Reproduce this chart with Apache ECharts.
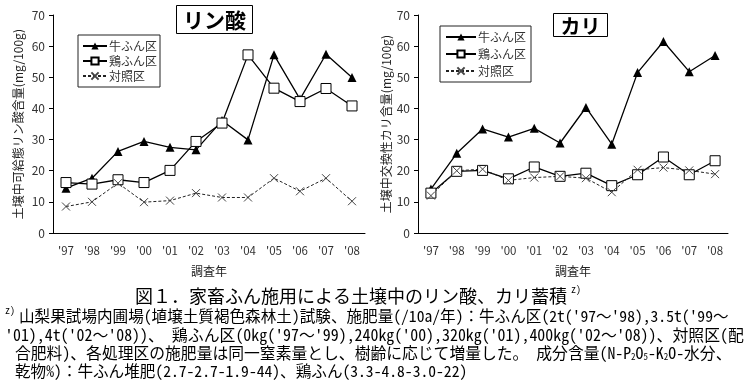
<!DOCTYPE html>
<html><head><meta charset="utf-8">
<script src="https://cdn.jsdelivr.net/npm/echarts@6/dist/echarts.min.js"></script>
<style>html,body{margin:0;padding:0;background:#fff}#c{width:751px;height:389px}</style>
</head><body><div id="c"></div>
<script>
var years = ["'97","'98","'99","'00","'01","'02","'03","'04","'05","'06","'07","'08"];
var seriesNames = ["牛ふん区","鶏ふん区","対照区"];
// リン酸 (left)
var pCattle  = [14.4,17.6,26.2,29.4,27.5,26.7,36.1,29.9,57.2,43.0,57.4,49.9];
var pChicken = [16.2,15.7,17.1,16.2,20.1,29.4,35.3,57.2,46.5,42.2,46.4,40.8];
var pControl = [8.5,10.0,16.0,9.9,10.4,12.8,11.4,11.4,17.6,13.4,17.6,10.2];
// カリ (right)
var kCattle  = [14.1,25.6,33.4,30.8,33.6,28.9,40.3,28.5,51.5,61.5,51.8,57.0];
var kChicken = [12.8,19.8,20.1,17.4,21.2,18.2,19.2,15.2,18.7,24.4,18.7,23.2];
var kControl = [12.0,20.0,20.5,16.9,17.8,18.2,17.6,13.1,20.3,21.0,20.1,18.9];
var yTicks = [0,10,20,30,40,50,60,70];
var leftTitle = "リン酸", rightTitle = "カリ";
var leftYName = "土壌中可給態リン酸含量(mg/100g)";
var rightYName = "土壌中交換性カリ含量(mg/100g)";
var xName = "調査年";
var caption1 = "図１．家畜ふん施用による土壌中のリン酸、カリ蓄積";
var notes = [
  "山梨果試場内圃場(埴壌土質褐色森林土)試験、施肥量(/10a/年)：牛ふん区(2t('97～'98),3.5t('99～",
  "'01),4t('02～'08))、 鶏ふん区(0kg('97～'99),240kg('00),320kg('01),400kg('02～'08))、対照区(配",
  "合肥料)、各処理区の施肥量は同一窒素量とし、樹齢に応じて増量した。　成分含量(N-P{s|2}O{s|5}-K{s|2}O-水分、",
  "乾物%)：牛ふん堆肥(2.7-2.7-1.9-44)、鶏ふん(3.3-4.8-3.0-22)"
];

var FONT = "'Noto Sans CJK JP', sans-serif";
var CAPFONT = "'Noto Sans Mono CJK JP', 'Noto Sans CJK JP', monospace";
var crossPath = 'path://M0,0L10,10M0,10L10,0';

function mkSeries(idx, name, data) {
  var common = {type:'line', name:name, data:data, xAxisIndex:idx, yAxisIndex:idx,
    animation:false, emphasis:{disabled:true}, showAllSymbol:true};
  if (name === seriesNames[0]) {
    return Object.assign(common, {symbol:'triangle', symbolSize:9,
      itemStyle:{color:'#000'}, lineStyle:{color:'#000', width:1.3}});
  } else if (name === seriesNames[1]) {
    return Object.assign(common, {symbol:'rect', symbolSize:10,
      itemStyle:{color:'#fff', borderColor:'#000', borderWidth:1}, lineStyle:{color:'#000', width:1.3}});
  } else {
    return Object.assign(common, {symbol:crossPath, symbolSize:8,
      itemStyle:{color:'#444', borderColor:'#444', borderWidth:1}, lineStyle:{color:'#222', width:1, type:[3,2]}});
  }
}

function xAx(gi) {
  return {type:'category', gridIndex:gi, data:years, boundaryGap:true,
    name:xName, nameLocation:'middle', nameGap:32,
    nameTextStyle:{fontFamily:FONT, fontSize:12, color:'#222'},
    axisLine:{lineStyle:{color:'#000', width:1}},
    axisTick:{inside:true, length:4, lineStyle:{color:'#000'}},
    axisLabel:{margin:12, fontFamily:FONT, fontSize:11.5, color:'#333'},
    splitLine:{show:false}};
}
function yAx(gi, name, gap) {
  return {type:'value', gridIndex:gi, min:0, max:70, interval:10,
    name:name, nameLocation:'middle', nameGap:gap, nameRotate:90,
    nameTextStyle:{fontFamily:FONT, fontSize:12, color:'#222'},
    axisLine:{show:true, lineStyle:{color:'#000', width:1}},
    axisTick:{show:true, inside:false, length:4, lineStyle:{color:'#000'}},
    axisLabel:{margin:8, fontFamily:FONT, fontSize:12, color:'#333'},
    splitLine:{show:false}};
}
function legendCfg(left, top, pad, gap, iw, ih) {
  return {data:seriesNames, orient:'vertical', left:left, top:top,
    padding:pad, itemGap:gap, itemWidth:iw, itemHeight:ih,
    borderColor:'#222', borderWidth:1, backgroundColor:'#fff',
    textStyle:{fontFamily:FONT, fontSize:12, color:'#333', padding:[0,0,0,-3]},
    selectedMode:false};
}
function titleBox(x, y, w, h, text, fs) {
  return {type:'group', left:x, top:y, children:[
    {type:'rect', shape:{x:0, y:0, width:w, height:h}, style:{fill:'#fff', stroke:'#000', lineWidth:1}},
    {type:'text', x:w/2, y:h/2+1, style:{text:text, fill:'#000', align:'center', verticalAlign:'middle',
      font:'bold '+fs+'px '+FONT}}
  ]};
}

var graphics = [
  titleBox(176, 5, 76, 28, leftTitle, 21),
  titleBox(553, 13, 54, 23, rightTitle, 20),
  {type:'text', x:135, y:296, style:{text:caption1, fill:'#000', verticalAlign:'middle', font:'18px '+CAPFONT}},
  {type:'text', x:571, y:289, style:{text:'z)', fill:'#000', verticalAlign:'middle', font:'10px '+CAPFONT}},
  {type:'text', x:5, y:310, style:{text:'z)', fill:'#000', verticalAlign:'middle', font:'10px '+CAPFONT}}
];
var noteX = [19, 5, 15, 15], noteY = [316, 335, 353, 371];
var noteSize = [15.6, 15.9, 15.8, 15.6];
for (var i = 0; i < notes.length; i++) {
  graphics.push({type:'text', x:noteX[i], y:noteY[i], style:{text:notes[i], fill:'#000', verticalAlign:'middle',
    font:noteSize[i]+'px '+CAPFONT, rich:{s:{fontSize:9, fontFamily:CAPFONT, verticalAlign:'bottom', fill:'#000', padding:[6,0,0,0]}}}});
}

var chart = echarts.init(document.getElementById('c'), null, {renderer:'canvas'});
chart.setOption({
  animation:false,
  backgroundColor:'#fff',
  grid:[
    {left:53, top:15, right:386, bottom:156},
    {left:418, top:15, right:23, bottom:156}
  ],
  xAxis:[xAx(0), xAx(1)],
  yAxis:[yAx(0, leftYName, 29), yAx(1, rightYName, 26)],
  legend:[legendCfg(78, 35, [5,3,5,4], 3, 24, 9), legendCfg(440, 26, [5,5,5,5], 5, 30, 9)],
  series:[
    mkSeries(0, seriesNames[0], pCattle),
    mkSeries(0, seriesNames[1], pChicken),
    mkSeries(0, seriesNames[2], pControl),
    mkSeries(1, seriesNames[0], kCattle),
    mkSeries(1, seriesNames[1], kChicken),
    mkSeries(1, seriesNames[2], kControl)
  ],
  graphic:graphics
});
</script></body></html>
